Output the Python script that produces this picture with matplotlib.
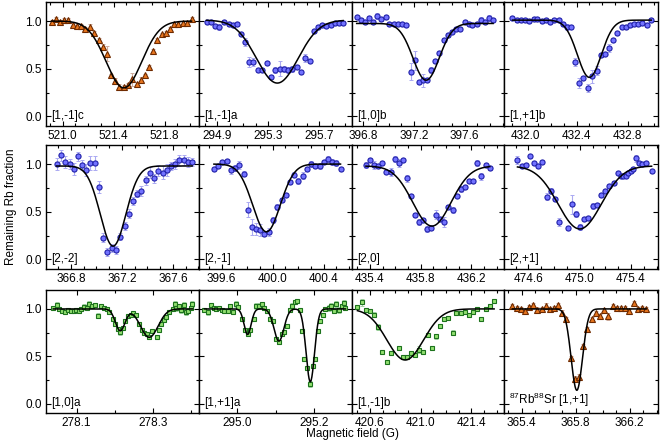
import numpy as np
import matplotlib
matplotlib.use('Agg')
import matplotlib.pyplot as plt
from matplotlib.ticker import FixedLocator, MultipleLocator, FormatStrFormatter

plt.rcParams['font.family'] = ['Liberation Sans', 'DejaVu Sans']
plt.rcParams['font.size'] = 8.5
plt.rcParams['mathtext.default'] = 'regular'

# ---- data, one block per panel ----
p1_x = [520.913, 520.947, 520.979, 521.013, 521.045, 521.079, 521.111, 521.142, 521.176, 521.211, 521.247, 521.282,
        521.316, 521.347, 521.382, 521.413, 521.445, 521.479, 521.511, 521.545, 521.579, 521.611, 521.642, 521.676,
        521.711, 521.742, 521.776, 521.808, 521.842, 521.874, 521.905, 521.940, 521.974, 522.011]
p1_y = [0.99, 1.02, 0.99, 1.01, 1.01, 0.96, 0.95, 0.95, 0.92, 0.94, 0.88, 0.80, 0.73, 0.66, 0.43, 0.37, 0.31, 0.31,
        0.33, 0.39, 0.34, 0.38, 0.43, 0.52, 0.69, 0.80, 0.86, 0.88, 0.92, 0.97, 0.97, 0.98, 0.98, 1.02]
p1_err = [0.02, 0.02, 0.02, 0.02, 0.02, 0.02, 0.03, 0.02, 0.02, 0.03, 0.02, 0.02, 0.03, 0.08, 0.02, 0.03, 0.03, 0.02,
          0.02, 0.07, 0.02, 0.03, 0.02, 0.02, 0.02, 0.02, 0.02, 0.02, 0.02, 0.02, 0.02, 0.02, 0.02, 0.02]

p2_x = [294.815, 294.847, 294.881, 294.916, 294.953, 294.988, 295.020, 295.055, 295.087, 295.119, 295.151, 295.183,
        295.215, 295.249, 295.287, 295.321, 295.353, 295.388, 295.420, 295.455, 295.487, 295.521, 295.556, 295.591,
        295.623, 295.655, 295.689, 295.721, 295.756, 295.788, 295.823, 295.855, 295.887]
p2_y = [0.99, 0.99, 0.95, 0.94, 0.99, 0.97, 0.96, 0.97, 0.86, 0.78, 0.57, 0.57, 0.49, 0.49, 0.56, 0.41, 0.49, 0.50,
        0.50, 0.49, 0.50, 0.52, 0.47, 0.61, 0.58, 0.90, 0.94, 0.96, 0.95, 0.96, 0.98, 0.98, 0.98]
p2_err = [0.02, 0.02, 0.02, 0.03, 0.02, 0.02, 0.02, 0.02, 0.02, 0.04, 0.05, 0.04, 0.02, 0.02, 0.02, 0.02, 0.03, 0.08,
          0.03, 0.03, 0.03, 0.02, 0.02, 0.04, 0.02, 0.02, 0.02, 0.02, 0.02, 0.02, 0.02, 0.02, 0.02]

p3_x = [396.748, 396.779, 396.810, 396.846, 396.880, 396.911, 396.942, 396.976, 397.006, 397.040, 397.074, 397.107,
        397.141, 397.174, 397.205, 397.239, 397.272, 397.306, 397.337, 397.368, 397.401, 397.435, 397.466, 397.499,
        397.533, 397.564, 397.600, 397.631, 397.662, 397.696, 397.729, 397.760, 397.794, 397.825]
p3_y = [1.04, 1.01, 0.99, 1.03, 0.99, 1.05, 1.02, 1.04, 0.97, 0.97, 0.97, 0.97, 0.96, 0.47, 0.59, 0.36, 0.38, 0.38,
        0.49, 0.58, 0.67, 0.80, 0.85, 0.89, 0.92, 0.92, 0.99, 0.97, 0.96, 0.97, 1.01, 0.99, 1.03, 1.01]
p3_err = [0.02, 0.02, 0.02, 0.02, 0.02, 0.03, 0.02, 0.02, 0.02, 0.02, 0.02, 0.02, 0.02, 0.09, 0.10, 0.02, 0.07, 0.02,
          0.03, 0.02, 0.02, 0.02, 0.02, 0.02, 0.02, 0.02, 0.02, 0.02, 0.02, 0.02, 0.03, 0.02, 0.03, 0.02]

p4_x = [431.901, 431.935, 431.966, 432.000, 432.031, 432.065, 432.096, 432.130, 432.161, 432.195, 432.226, 432.260,
        432.291, 432.325, 432.356, 432.390, 432.423, 432.454, 432.488, 432.522, 432.556, 432.587, 432.621, 432.654,
        432.688, 432.719, 432.753, 432.784, 432.815, 432.849, 432.880, 432.914, 432.948, 432.982]
p4_y = [1.03, 1.01, 1.01, 1.01, 1.00, 1.02, 1.02, 1.00, 1.01, 0.99, 1.01, 1.01, 0.97, 0.94, 0.94, 0.57, 0.35, 0.40,
        0.30, 0.42, 0.48, 0.64, 0.66, 0.72, 0.80, 0.87, 0.94, 0.94, 0.96, 0.97, 0.97, 0.98, 0.96, 1.01]
p4_err = [0.02, 0.02, 0.02, 0.02, 0.02, 0.02, 0.02, 0.02, 0.02, 0.02, 0.02, 0.02, 0.02, 0.03, 0.02, 0.04, 0.05, 0.02,
          0.04, 0.07, 0.05, 0.02, 0.02, 0.04, 0.02, 0.02, 0.02, 0.02, 0.02, 0.02, 0.02, 0.02, 0.02, 0.02]

p5_x = [366.687, 366.721, 366.755, 366.790, 366.824, 366.855, 366.887, 366.921, 366.952, 366.986, 367.020, 367.054,
        367.086, 367.120, 367.154, 367.186, 367.220, 367.254, 367.285, 367.319, 367.353, 367.385, 367.419, 367.450,
        367.485, 367.519, 367.550, 367.584, 367.616, 367.650, 367.684, 367.715, 367.750]
p5_y = [1.00, 1.09, 1.02, 1.00, 0.95, 1.08, 0.99, 0.94, 1.01, 1.01, 0.76, 0.23, 0.08, 0.12, 0.10, 0.24, 0.35, 0.48,
        0.61, 0.69, 0.72, 0.83, 0.91, 0.85, 0.93, 0.91, 0.94, 0.98, 1.00, 1.04, 1.04, 1.02, 1.02]
p5_err = [0.06, 0.06, 0.06, 0.05, 0.06, 0.05, 0.05, 0.06, 0.07, 0.07, 0.06, 0.05, 0.04, 0.04, 0.04, 0.04, 0.04, 0.05,
          0.04, 0.04, 0.05, 0.05, 0.06, 0.05, 0.06, 0.07, 0.06, 0.04, 0.05, 0.06, 0.05, 0.05, 0.04]

p6_x = [399.539, 399.574, 399.605, 399.640, 399.671, 399.706, 399.737, 399.772, 399.803, 399.838, 399.869, 399.904,
        399.935, 399.970, 400.004, 400.036, 400.070, 400.102, 400.136, 400.168, 400.202, 400.236, 400.268, 400.302,
        400.334, 400.368, 400.400, 400.434, 400.466, 400.498, 400.532]
p6_y = [0.95, 0.98, 1.02, 1.03, 0.94, 0.96, 0.99, 0.90, 0.52, 0.34, 0.32, 0.31, 0.27, 0.29, 0.41, 0.55, 0.62, 0.68,
        0.81, 0.89, 0.82, 0.88, 0.95, 1.00, 0.98, 0.98, 1.02, 1.05, 1.02, 1.01, 0.95]
p6_err = [0.02, 0.02, 0.02, 0.02, 0.04, 0.03, 0.04, 0.03, 0.08, 0.08, 0.06, 0.06, 0.02, 0.04, 0.03, 0.03, 0.02, 0.02,
          0.02, 0.03, 0.03, 0.04, 0.02, 0.03, 0.02, 0.03, 0.02, 0.03, 0.03, 0.03, 0.02]

p7_x = [435.369, 435.400, 435.434, 435.465, 435.498, 435.529, 435.563, 435.596, 435.630, 435.663, 435.694, 435.725,
        435.759, 435.790, 435.823, 435.854, 435.885, 435.921, 435.955, 435.988, 436.019, 436.053, 436.087, 436.118,
        436.151, 436.185, 436.216, 436.249, 436.280, 436.314, 436.347]
p7_y = [0.99, 1.04, 0.99, 0.98, 1.01, 0.92, 0.92, 1.05, 1.01, 1.04, 0.85, 0.67, 0.47, 0.39, 0.41, 0.32, 0.33, 0.47,
        0.42, 0.39, 0.55, 0.52, 0.67, 0.74, 0.76, 0.82, 0.82, 1.01, 0.87, 0.99, 0.96]
p7_err = [0.03, 0.02, 0.04, 0.02, 0.02, 0.02, 0.04, 0.03, 0.04, 0.02, 0.04, 0.02, 0.02, 0.03, 0.02, 0.03, 0.02, 0.05,
          0.02, 0.05, 0.02, 0.03, 0.02, 0.03, 0.02, 0.02, 0.02, 0.03, 0.04, 0.02, 0.02]

p8_x = [474.515, 474.548, 474.582, 474.615, 474.646, 474.677, 474.708, 474.742, 474.776, 474.806, 474.840, 474.905,
        474.938, 474.972, 475.003, 475.036, 475.067, 475.101, 475.134, 475.168, 475.199, 475.232, 475.266, 475.297,
        475.323, 475.341, 475.361, 475.379, 475.398, 475.416, 475.441, 475.465, 475.488, 475.516, 475.560]
p8_y = [1.04, 0.98, 0.99, 1.08, 1.01, 0.98, 1.02, 0.66, 0.72, 0.63, 0.39, 0.33, 0.58, 0.48, 0.34, 0.42, 0.43, 0.56,
        0.57, 0.68, 0.72, 0.77, 0.80, 0.91, 0.88, 0.87, 0.88, 0.91, 0.93, 0.95, 1.06, 1.01, 1.00, 1.01, 0.93]
p8_err = [0.04, 0.02, 0.02, 0.02, 0.02, 0.02, 0.02, 0.04, 0.03, 0.02, 0.04, 0.02, 0.10, 0.03, 0.03, 0.02, 0.02, 0.03,
          0.02, 0.02, 0.02, 0.02, 0.02, 0.02, 0.02, 0.02, 0.02, 0.02, 0.02, 0.02, 0.04, 0.02, 0.02, 0.02, 0.02]

p9_x = [278.039, 278.048, 278.055, 278.063, 278.070, 278.078, 278.085, 278.092, 278.098, 278.105, 278.112, 278.119,
        278.126, 278.133, 278.141, 278.147, 278.157, 278.165, 278.172, 278.179, 278.186, 278.194, 278.201, 278.208,
        278.214, 278.221, 278.227, 278.234, 278.241, 278.248, 278.255, 278.263, 278.270, 278.276, 278.283, 278.290,
        278.297, 278.309, 278.315, 278.321, 278.328, 278.335, 278.342, 278.351, 278.356, 278.361, 278.368, 278.374,
        278.380, 278.386, 278.392, 278.398, 278.403]
p9_y = [1.01, 1.04, 1.00, 0.98, 0.97, 0.99, 0.98, 0.98, 0.99, 0.98, 1.00, 1.02, 1.01, 1.05, 1.03, 1.04, 0.93, 1.03,
        1.01, 1.00, 0.97, 0.89, 0.84, 0.79, 0.76, 0.80, 0.87, 0.92, 0.94, 0.96, 0.94, 0.84, 0.78, 0.75, 0.73, 0.70,
        0.77, 0.70, 0.78, 0.84, 0.88, 0.91, 0.97, 1.00, 1.05, 1.01, 1.03, 0.99, 1.04, 0.97, 0.98, 1.01, 1.05]
p9_err = [0.02, 0.03, 0.02, 0.02, 0.02, 0.02, 0.02, 0.02, 0.02, 0.02, 0.02, 0.03, 0.02, 0.03, 0.02, 0.02, 0.03, 0.02,
          0.02, 0.02, 0.02, 0.02, 0.02, 0.02, 0.04, 0.02, 0.02, 0.02, 0.02, 0.02, 0.02, 0.02, 0.02, 0.02, 0.02, 0.02,
          0.02, 0.02, 0.02, 0.02, 0.02, 0.02, 0.02, 0.02, 0.03, 0.03, 0.02, 0.03, 0.03, 0.03, 0.02, 0.02, 0.03]

p10_x = [294.914, 294.923, 294.931, 294.938, 294.945, 294.952, 294.959, 294.966, 294.975, 294.982, 294.989, 294.997,
         295.003, 295.012, 295.020, 295.027, 295.034, 295.043, 295.050, 295.057, 295.064, 295.071, 295.078, 295.086,
         295.093, 295.100, 295.109, 295.116, 295.123, 295.130, 295.137, 295.144, 295.151, 295.156, 295.163, 295.170,
         295.175, 295.182, 295.191, 295.198, 295.204, 295.210, 295.217, 295.223, 295.230, 295.239, 295.245, 295.252,
         295.259, 295.266, 295.273, 295.278, 295.283]
p10_y = [0.99, 0.97, 1.04, 1.01, 1.00, 1.01, 0.99, 0.98, 0.98, 1.03, 0.97, 1.05, 1.02, 0.89, 0.78, 0.74, 0.78, 0.89,
         1.03, 1.03, 1.05, 1.01, 0.98, 0.89, 0.87, 0.68, 0.65, 0.73, 0.76, 0.82, 0.99, 1.03, 1.07, 1.08, 0.99, 0.77,
         0.47, 0.38, 0.21, 0.40, 0.47, 0.77, 0.87, 0.94, 1.00, 1.01, 1.03, 0.98, 1.05, 0.99, 1.03, 1.06, 1.01]
p10_err = [0.02, 0.03, 0.02, 0.02, 0.02, 0.02, 0.02, 0.02, 0.02, 0.02, 0.02, 0.03, 0.02, 0.02, 0.02, 0.02, 0.02, 0.02,
           0.03, 0.03, 0.02, 0.02, 0.02, 0.02, 0.02, 0.02, 0.02, 0.02, 0.02, 0.02, 0.02, 0.03, 0.02, 0.02, 0.02, 0.02,
           0.02, 0.02, 0.03, 0.02, 0.02, 0.02, 0.02, 0.02, 0.02, 0.03, 0.03, 0.02, 0.03, 0.03, 0.02, 0.03, 0.02]

p11_x = [420.502, 420.538, 420.569, 420.600, 420.634, 420.667, 420.698, 420.732, 420.763, 420.830, 420.863, 420.894,
         420.928, 420.959, 420.990, 421.023, 421.057, 421.090, 421.121, 421.155, 421.188, 421.219, 421.253, 421.284,
         421.317, 421.348, 421.382, 421.416, 421.449, 421.480, 421.514, 421.547, 421.581]
p11_y = [1.02, 1.07, 0.99, 0.98, 0.94, 0.81, 0.55, 0.44, 0.53, 0.59, 0.49, 0.49, 0.53, 0.51, 0.57, 0.54, 0.72, 0.59,
         0.71, 0.82, 0.89, 0.90, 0.75, 0.96, 0.96, 0.97, 0.94, 0.97, 1.00, 0.89, 1.00, 1.03, 1.08]
p11_err = [0.02, 0.04, 0.02, 0.02, 0.03, 0.03, 0.02, 0.02, 0.02, 0.02, 0.02, 0.02, 0.03, 0.02, 0.04, 0.02, 0.02, 0.02,
           0.03, 0.02, 0.02, 0.02, 0.03, 0.02, 0.02, 0.02, 0.02, 0.02, 0.02, 0.02, 0.02, 0.02, 0.02]

p12_x = [365.331, 365.363, 365.393, 365.425, 365.457, 365.486, 365.516, 365.548, 365.580, 365.609, 365.641, 365.673,
         365.703, 365.732, 365.764, 365.796, 365.826, 365.858, 365.887, 365.919, 365.949, 365.981, 366.013, 366.043,
         366.075, 366.107, 366.136, 366.166, 366.198, 366.230, 366.259, 366.291, 366.323]
p12_y = [1.03, 1.01, 1.00, 0.98, 1.02, 1.04, 0.99, 1.00, 1.03, 1.00, 1.01, 1.04, 0.96, 0.89, 0.48, 0.26, 0.28, 0.61,
         0.79, 0.89, 0.96, 0.93, 0.99, 0.92, 1.03, 1.01, 1.01, 1.01, 0.98, 1.06, 1.00, 1.01, 1.00]
p12_err = [0.02, 0.02, 0.02, 0.02, 0.02, 0.02, 0.03, 0.02, 0.03, 0.02, 0.02, 0.02, 0.03, 0.02, 0.02, 0.03, 0.03, 0.02,
           0.02, 0.02, 0.02, 0.02, 0.02, 0.04, 0.02, 0.02, 0.02, 0.02, 0.02, 0.02, 0.02, 0.02, 0.02]

labels = ['[1,-1]c', '[1,-1]a', '[1,0]b', '[1,+1]b',
          '[2,-2]', '[2,-1]', '[2,0]', '[2,+1]',
          '[1,0]a', '[1,+1]a', '[1,-1]b', r'$^{87}$Rb$^{88}$Sr [1,+1]']

xlims = [(520.869, 522.069), (294.756, 295.956), (396.711, 397.911), (431.835, 433.035),
         (366.604, 367.804), (399.422, 400.622), (435.259, 436.459), (474.41, 475.61),
         (278.02, 278.42), (294.90, 295.30), (420.459, 421.659), (365.27, 366.41)]

xmajor = [[521.0, 521.4, 521.8], [294.9, 295.3, 295.7], [396.8, 397.2, 397.6], [432.0, 432.4, 432.8],
          [366.8, 367.2, 367.6], [399.6, 400.0, 400.4], [435.4, 435.8, 436.2], [474.6, 475.0, 475.4],
          [278.1, 278.3], [295.0, 295.2], [420.6, 421.0, 421.4], [365.4, 365.8, 366.2]]

# fitted lineshapes: baseline and (centre, depth, sigma) of each dip
fit_base = [1.00, 1.01, 0.975, 1.01, 0.98, 1.00, 0.98, 0.98, 1.00, 1.00, 1.00, 1.00]
fit_dips = [[(521.48, 0.70, 0.14)],
            [(295.37, 0.66, 0.164)],
            [(397.296, 0.595, 0.104)],
            [(432.50, 0.60, 0.093)],
            [(367.13, 0.84, 0.10)],
            [(399.951, 0.71, 0.108)],
            [(435.89, 0.63, 0.151)],
            [(475.0, 0.66, 0.168)],
            [(278.214, 0.23, 0.0126), (278.290, 0.30, 0.023)],
            [(295.027, 0.27, 0.0093), (295.109, 0.34, 0.013), (295.191, 0.77, 0.011)],
            [(420.879, 0.54, 0.145)],
            [(365.809, 0.86, 0.042)]]

xs = [p1_x, p2_x, p3_x, p4_x, p5_x, p6_x, p7_x, p8_x, p9_x, p10_x, p11_x, p12_x]
ys = [p1_y, p2_y, p3_y, p4_y, p5_y, p6_y, p7_y, p8_y, p9_y, p10_y, p11_y, p12_y]
errs = [p1_err, p2_err, p3_err, p4_err, p5_err, p6_err, p7_err, p8_err, p9_err, p10_err, p11_err, p12_err]

tri = dict(marker='^', mfc='#e8761e', mec='#6e2a00', ms=4.0, ecolor='#cfae9f')
circ = dict(marker='o', mfc='#7272ff', mec='#2020a8', ms=3.7, ecolor='#abaaf2')
sq = dict(marker='s', mfc='#92e070', mec='#1d721d', ms=3.2, ecolor='#a0d4a0')
styles = [tri, circ, circ, circ, circ, circ, circ, circ, sq, sq, sq, tri]

# panel geometry in pixels of the 664x443 figure
W, H = 664, 443
col_left = [46, 199, 352, 504]
col_w = [153, 153, 152, 154]
row_top = [2, 145, 290]
row_h = [124, 124, 123]

fig = plt.figure(figsize=(6.64, 4.43), dpi=100)

for i in range(12):
    r, c = divmod(i, 4)
    ax = fig.add_axes([col_left[c] / W, 1 - (row_top[r] + row_h[r]) / H, col_w[c] / W, row_h[r] / H])
    st = styles[i]
    ax.errorbar(xs[i], ys[i], yerr=errs[i], fmt='none', ecolor=st['ecolor'], elinewidth=0.8,
                capsize=1.6, capthick=0.7, zorder=2)
    ax.plot(xs[i], ys[i], ls='none', marker=st['marker'], mfc=st['mfc'], mec=st['mec'],
            ms=st['ms'], mew=0.8, zorder=3)

    xf = np.linspace(min(xs[i]), max(xs[i]), 400)
    yf = np.full_like(xf, fit_base[i])
    for x0, d, s in fit_dips[i]:
        yf -= d * np.exp(-0.5 * ((xf - x0) / s) ** 2)
    ax.plot(xf, yf, color='black', lw=1.1, zorder=4)

    ax.set_xlim(*xlims[i])
    ax.set_ylim(-0.1, 1.2)
    ax.xaxis.set_major_locator(FixedLocator(xmajor[i]))
    ax.xaxis.set_minor_locator(MultipleLocator(0.1))
    ax.xaxis.set_major_formatter(FormatStrFormatter('%.1f'))
    ax.yaxis.set_major_locator(FixedLocator([0.0, 0.5, 1.0]))
    ax.yaxis.set_minor_locator(MultipleLocator(0.25))
    ax.yaxis.set_major_formatter(FormatStrFormatter('%.1f'))
    ax.tick_params(which='both', direction='in', top=True, right=True, width=0.8, labelsize=8.5)
    ax.tick_params(which='major', length=3.5, pad=3)
    ax.tick_params(which='minor', length=2)
    if c != 0:
        ax.tick_params(labelleft=False)
    for sp in ax.spines.values():
        sp.set_linewidth(1.0)
    ax.text(0.035, 0.035, labels[i], transform=ax.transAxes, fontsize=8.5, ha='left', va='bottom')

fig.text(0.016, 1 - 207 / H, 'Remaining Rb fraction', rotation=90, ha='center', va='center', fontsize=8.5)
fig.text(352 / W, 1 - 434 / H, 'Magnetic field (G)', ha='center', va='center', fontsize=8.5)

fig.savefig('out.png', dpi=100)
